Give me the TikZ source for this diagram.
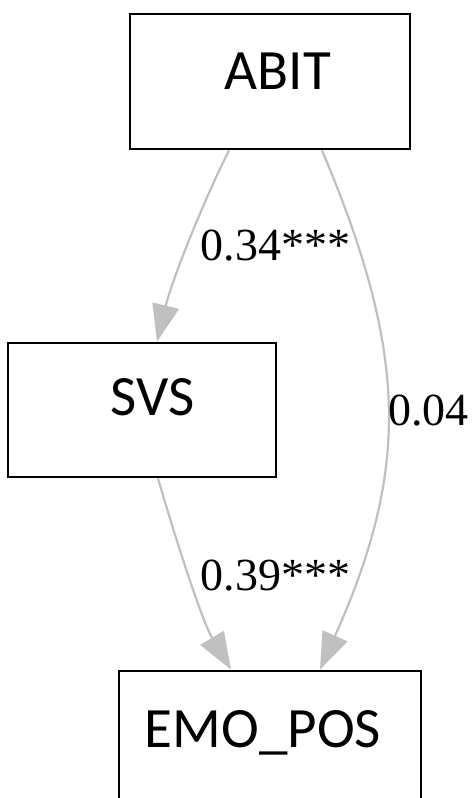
\documentclass[tikz,border=0pt]{standalone}
\usepackage{fontspec}
\setmainfont{Liberation Serif}
\newfontfamily\boxfont{Carlito}
\usetikzlibrary{arrows.meta}
\definecolor{edgegray}{RGB}{192,192,192}
\begin{document}
\begin{tikzpicture}[x=1pt,y=-1pt,
  varbox/.style={draw=black, line width=2.8pt, rectangle, inner sep=0pt},
  boxlabel/.style={font=\boxfont\fontsize{57}{57}\selectfont, anchor=base, inner sep=0pt},
  coef/.style={font=\fontsize{46}{46}\selectfont, anchor=base, inner sep=0pt},
  link/.style={draw=edgegray, line width=2.2pt, -{Triangle[length=37pt,width=27pt]}}]
\useasboundingbox (0,0) rectangle (472,798);
\clip (0,0) rectangle (472,798);

% variables
\node[varbox, minimum width=280pt, minimum height=135pt] (abit) at (270,81.5) {};
\node[varbox, minimum width=268pt, minimum height=134pt] (svs) at (142,410) {};
\node[varbox, minimum width=302pt, minimum height=200pt] (emo) at (270,771) {};

\node[boxlabel] (abit-t) at (278,89) {ABIT};
\node[boxlabel] (svs-t) at (152.5,415) {SVS};
\node[boxlabel] (emo-t) at (263,747) {EMO\_POS};

% paths
\draw[link] ([xshift=-41pt]abit.south) .. controls (203,202) and (172,280) .. ([xshift=15pt]svs.north);
\draw[link] ([xshift=52pt]abit.south) .. controls (409,356) and (409,470) .. ([xshift=50pt]emo.north);
\draw[link] ([xshift=16pt]svs.south) .. controls (175,537) and (202,621) .. ([xshift=-39pt]emo.north);

% path coefficients
\node[coef] (c1) at (275.5,260) {0.34***};
\node[coef] (c2) at (428.5,425) {0.04};
\node[coef] (c3) at (275.5,590) {0.39***};
\end{tikzpicture}
\end{document}
